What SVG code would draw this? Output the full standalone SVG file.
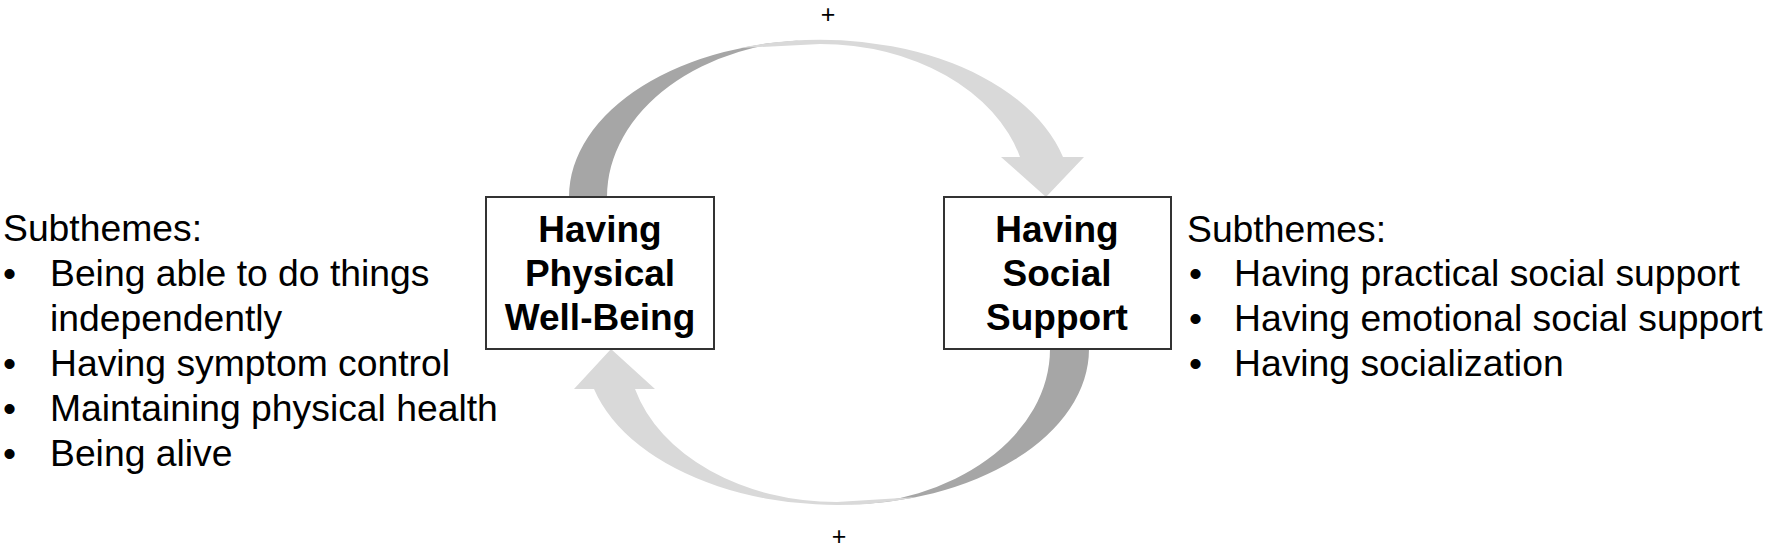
<svg xmlns="http://www.w3.org/2000/svg" width="1772" height="551" viewBox="0 0 1772 551">
<style>
text{font-family:"Liberation Sans",Arial,sans-serif;fill:#000}
.t{font-size:37.3px}
.b{font-size:37px;font-weight:bold;text-anchor:middle}
.p{font-size:25px;text-anchor:middle}
.box{fill:#fff;stroke:#333;stroke-width:2}
.dark{fill:#a6a6a6}
.light{fill:#d9d9d9}
</style>
<rect width="1772" height="551" fill="#fff"/>
<g id="connectors">
  <g id="arrow-top">
    <path class="dark" d="M569,197 A251,157 0 0 1 820,40 A213,157 0 0 0 607,197 Z"/>
    <path class="light" d="M740,48 A251,157 0 0 1 1063,157 L1084,157 L1046,197 L1001,157 L1020,157 A207,153 0 0 0 820,44 L740,48 Z"/>
  </g>
  <g id="arrow-bottom">
    <path class="dark" d="M1089,349 A252,156 0 0 1 837,505 A213,156 0 0 0 1050,349 Z"/>
    <path class="light" d="M917,497 A252,156 0 0 1 594,389 L574,389 L611,349 L655,389 L635,389 A209,153 0 0 0 837,502 L917,497 Z"/>
  </g>
  <text class="p" x="828" y="23">+</text>
  <text class="p" x="839" y="545">+</text>
</g>
<g id="node-physical">
  <rect class="box" x="486" y="197" width="228" height="152"/>
  <text class="b" x="600" y="242">Having</text>
  <text class="b" x="600" y="286">Physical</text>
  <text class="b" x="600" y="330">Well-Being</text>
</g>
<g id="node-social">
  <rect class="box" x="944" y="197" width="227" height="152"/>
  <text class="b" x="1057" y="242">Having</text>
  <text class="b" x="1057" y="286">Social</text>
  <text class="b" x="1057" y="330">Support</text>
</g>
<g id="subthemes-physical">
  <text class="t" x="3" y="241">Subthemes:</text>
  <text class="t" x="3" y="286">•</text><text class="t" x="50" y="286">Being able to do things</text>
  <text class="t" x="50" y="331">independently</text>
  <text class="t" x="3" y="376">•</text><text class="t" x="50" y="376">Having symptom control</text>
  <text class="t" x="3" y="421">•</text><text class="t" x="50" y="421">Maintaining physical health</text>
  <text class="t" x="3" y="466">•</text><text class="t" x="50" y="466">Being alive</text>
</g>
<g id="subthemes-social">
  <text class="t" x="1187" y="242">Subthemes:</text>
  <text class="t" x="1189" y="286">•</text><text class="t" x="1234" y="286">Having practical social support</text>
  <text class="t" x="1189" y="331">•</text><text class="t" x="1234" y="331">Having emotional social support</text>
  <text class="t" x="1189" y="376">•</text><text class="t" x="1234" y="376">Having socialization</text>
</g>
</svg>
